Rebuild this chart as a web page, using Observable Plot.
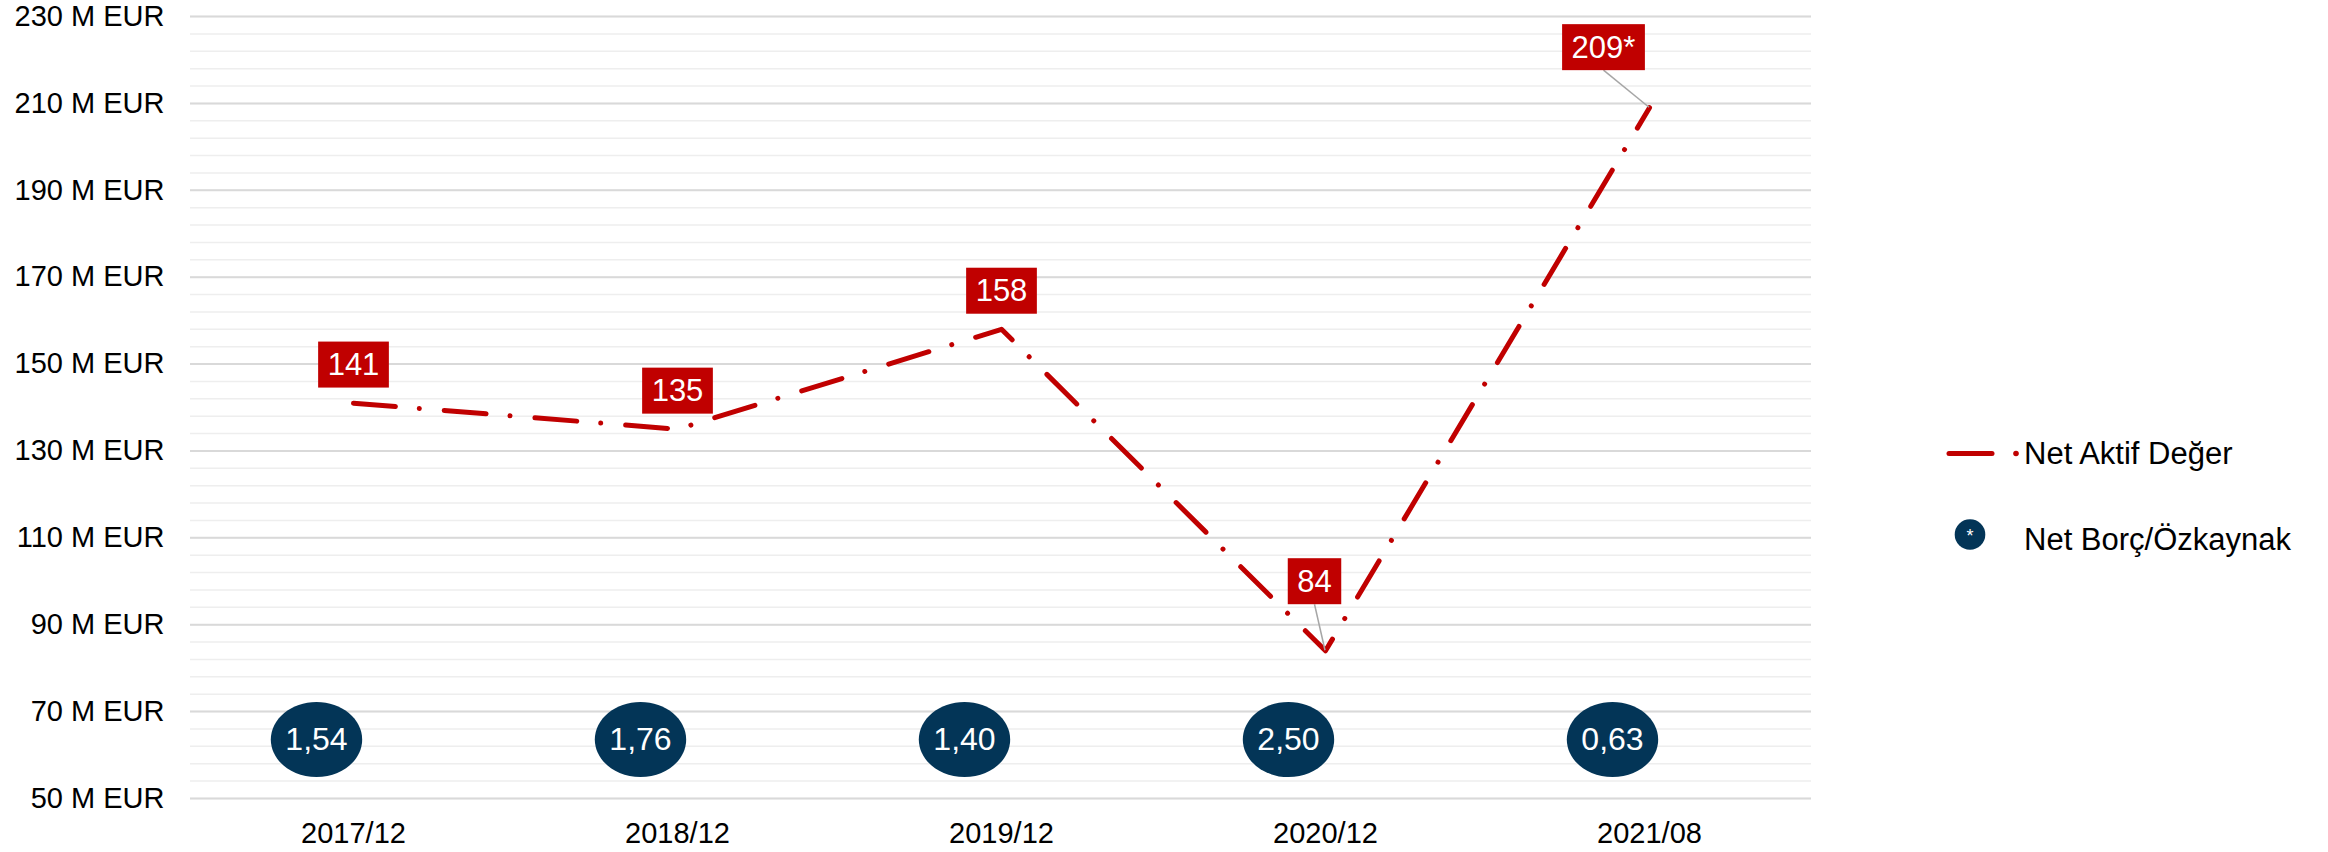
<!DOCTYPE html>
<html>
<head>
<meta charset="utf-8">
<script src="https://cdn.jsdelivr.net/npm/d3@7"></script>
<script src="https://cdn.jsdelivr.net/npm/@observablehq/plot@0.6"></script>
<style>
  html, body { margin: 0; padding: 0; background: #fff; }
  #wrap { position: relative; width: 2328px; height: 852px; font-family: "Liberation Sans", Arial, sans-serif; }
  #legend { position: absolute; left: 0; top: 0; pointer-events: none; }
</style>
</head>
<body>
<div id="wrap">
  <div id="chart"></div>
  <svg id="legend" width="2328" height="852"></svg>
</div>
<script>
// ---- data ----
const periods = ["2017/12", "2018/12", "2019/12", "2020/12", "2021/08"];
const navValues = [141, 135, 158, 84, 209];
const navLabels = ["141", "135", "158", "84", "209*"];
const debtRatios = [1.54, 1.76, 1.40, 2.50, 0.63];
const yTicks = [50, 70, 90, 110, 130, 150, 170, 190, 210, 230];
const seriesNames = ["Net Aktif Değer", "Net Borç/Özkaynak"];

const rows = periods.map((p, i) => ({period: p, nav: navValues[i], label: navLabels[i], ratio: debtRatios[i], i}));
const minorTicks = d3.range(50, 231, 4);
const fmtRatio = d => d3.format(".2f")(d).replace(".", ",");

const RED = "#C00000";
const NAVY = "#033557";
const FONT = "'Liberation Sans', Arial, sans-serif";

// ellipse symbol
const ellipse = {
  draw(context, size) {
    const r = Math.sqrt(size / Math.PI);
    const rx = r * 1.215, ry = r, k = 0.5522848;
    context.moveTo(rx, 0);
    context.bezierCurveTo(rx, ry * k, rx * k, ry, 0, ry);
    context.bezierCurveTo(-rx * k, ry, -rx, ry * k, -rx, 0);
    context.bezierCurveTo(-rx, -ry * k, -rx * k, -ry, 0, -ry);
    context.bezierCurveTo(rx * k, -ry, rx, -ry * k, rx, 0);
    context.closePath();
  }
};

const chart = Plot.plot({
  width: 2328,
  height: 852,
  marginTop: 16,
  marginBottom: 54,
  marginLeft: 190,
  marginRight: 517,
  style: {fontFamily: FONT, color: "black", background: "white"},
  x: {type: "point", domain: periods, padding: 0.5, label: null},
  y: {domain: [50, 230], label: null},
  marks: [
    Plot.ruleY(minorTicks, {stroke: "#EEEEEE", strokeWidth: 1.5}),
    Plot.ruleY(yTicks, {stroke: "#D9D9D9", strokeWidth: 2}),
    Plot.axisY({ticks: yTicks, tickFormat: d => `${d} M EUR`, tickSize: 0, tickPadding: 26, fontSize: 29, fill: "black"}),
    Plot.axisX({tickSize: 0, tickPadding: 24, fontSize: 29, fill: "black"}),
    Plot.line(rows, {
      x: "period", y: "nav", stroke: RED, strokeWidth: 5,
      strokeDasharray: "42,24,0.01,25", strokeLinecap: "round", strokeLinejoin: "round"
    }),
    Plot.dot(rows, {x: "period", frameAnchor: "bottom", dy: -59, dx: -37, r: 37.6, symbol: ellipse, fill: NAVY, stroke: "none"}),
    Plot.text(rows, {x: "period", frameAnchor: "bottom", dy: -59, dx: -37, text: d => fmtRatio(d.ratio), fill: "white", fontSize: 32, lineAnchor: "middle"}),
    Plot.text(rows.filter(d => d.i < 3), {x: "period", y: "nav", text: "label", dy: -38, fill: "white", fontSize: 31, lineAnchor: "middle", ariaDescription: "navlabel"}),
    Plot.text(rows.filter(d => d.i === 3), {x: "period", y: "nav", text: "label", dx: -11, dy: -69, fill: "white", fontSize: 31, lineAnchor: "middle", ariaDescription: "navlabel-leader"}),
    Plot.text(rows.filter(d => d.i === 4), {x: "period", y: "nav", text: "label", dx: -46, dy: -60, fill: "white", fontSize: 31, lineAnchor: "middle", ariaDescription: "navlabel-leader"})
  ]
});

document.getElementById("chart").append(chart);

// label boxes and leader lines
const ns = "http://www.w3.org/2000/svg";
const xs = chart.scale("x"), ys = chart.scale("y");
const leaderG = document.createElementNS(ns, "g");
const firstLabelG = chart.querySelector('g[aria-description^="navlabel"]');
chart.insertBefore(leaderG, firstLabelG);

chart.querySelectorAll('g[aria-description^="navlabel"] text').forEach(t => {
  const b = t.getBBox();
  const cx = b.x + b.width / 2, cy = b.y + b.height / 2;
  const w = b.width + 19, h = 46;
  const rect = document.createElementNS(ns, "rect");
  rect.setAttribute("x", cx - w / 2);
  rect.setAttribute("y", cy - h / 2);
  rect.setAttribute("width", w);
  rect.setAttribute("height", h);
  rect.setAttribute("fill", RED);
  const tf = t.getAttribute("transform");
  if (tf) rect.setAttribute("transform", tf);
  t.parentNode.insertBefore(rect, t);
  if (t.parentNode.getAttribute("aria-description") === "navlabel-leader") {
    const idx = navLabels.indexOf(t.textContent);
    const m = t.getCTM();
    const p = chart.createSVGPoint();
    p.x = cx; p.y = cy + h / 2;
    const q = p.matrixTransform(m);
    const line = document.createElementNS(ns, "line");
    line.setAttribute("x1", q.x);
    line.setAttribute("y1", q.y);
    line.setAttribute("x2", xs.apply(periods[idx]));
    line.setAttribute("y2", ys.apply(navValues[idx]));
    line.setAttribute("stroke", "#A6A6A6");
    line.setAttribute("stroke-width", 1.5);
    leaderG.appendChild(line);
  }
});

// legend
const lg = d3.select("#legend");
lg.append("line").attr("x1", 1949).attr("x2", 1992).attr("y1", 453.5).attr("y2", 453.5)
  .attr("stroke", RED).attr("stroke-width", 5).attr("stroke-linecap", "round");
lg.append("circle").attr("cx", 2016).attr("cy", 453.5).attr("r", 2.8).attr("fill", RED);
lg.append("text").attr("x", 2024).attr("y", 463.5).attr("font-size", 31).attr("font-family", FONT)
  .attr("fill", "black").text(seriesNames[0]);
lg.append("circle").attr("cx", 1970).attr("cy", 534.5).attr("r", 15.3).attr("fill", NAVY);
lg.append("text").attr("x", 1970).attr("y", 542).attr("font-size", 18).attr("font-family", FONT)
  .attr("fill", "white").attr("text-anchor", "middle").text("*");
lg.append("text").attr("x", 2024).attr("y", 550).attr("font-size", 31).attr("font-family", FONT)
  .attr("fill", "black").text(seriesNames[1]);
</script>
</body>
</html>
